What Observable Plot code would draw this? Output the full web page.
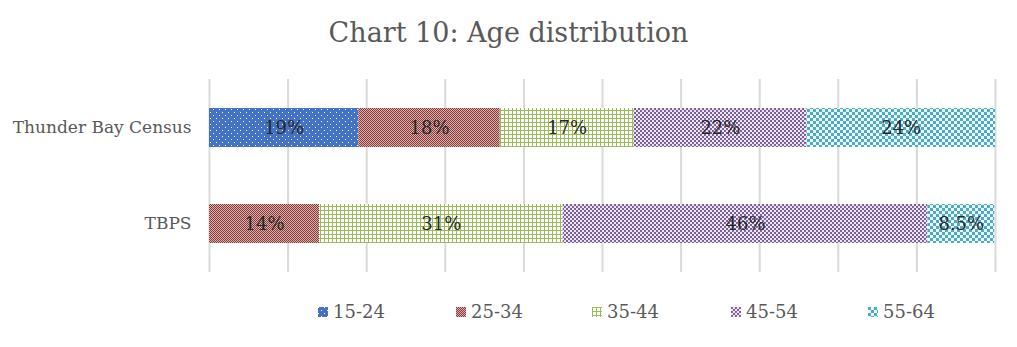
<!DOCTYPE html>
<html>
<head>
<meta charset="utf-8">
<script src="https://cdn.jsdelivr.net/npm/d3@7"></script>
<script src="https://cdn.jsdelivr.net/npm/@observablehq/plot@0.6"></script>
<style>
  html, body { margin: 0; padding: 0; background: #fff; }
  body { width: 1017px; height: 347px; overflow: hidden; font-family: "DejaVu Serif", serif; }
  #title { height: 70px; line-height: 66px; text-align: center; font-size: 27px; color: #595959; }
  #legend { position: relative; height: 62px; }
  .item { position: absolute; top: 16px; display: flex; align-items: center; font-size: 18px; color: #595959; }
  .item svg { margin-right: 5px; }
</style>
</head>
<body>
<svg width="0" height="0" style="position:absolute">
  <defs>
    <pattern id="p0" width="6" height="6" patternUnits="userSpaceOnUse">
      <rect width="6" height="6" fill="#4472C4"/>
      <rect x="0" y="0" width="1" height="1" fill="#ffffff"/>
      <rect x="3" y="3" width="1" height="1" fill="#ffffff"/>
    </pattern>
    <pattern id="p1" width="2" height="2" patternUnits="userSpaceOnUse">
      <rect width="2" height="2" fill="#d9b3b2"/>
      <rect x="0" y="0" width="1" height="1" fill="#8a3836"/>
      <rect x="1" y="1" width="1" height="1" fill="#8a3836"/>
    </pattern>
    <pattern id="p2" width="4" height="4" patternUnits="userSpaceOnUse">
      <rect width="4" height="4" fill="#ffffff"/>
      <rect x="0" y="0" width="4" height="1" fill="#9BBB59"/>
      <rect x="0" y="0" width="1" height="4" fill="#9BBB59"/>
    </pattern>
    <pattern id="p3" width="4" height="4" patternUnits="userSpaceOnUse">
      <rect width="4" height="4" fill="#ece6f3"/>
      <rect x="0" y="0" width="2" height="2" fill="#7a5f9a"/>
      <rect x="2" y="2" width="2" height="2" fill="#7a5f9a"/>
      <rect x="1" y="1" width="1" height="1" fill="#8d73ad"/>
    </pattern>
    <pattern id="p4" width="6" height="6" patternUnits="userSpaceOnUse">
      <rect width="6" height="6" fill="#eef9fc"/>
      <rect x="0" y="0" width="3" height="3" fill="#4BACC6"/>
      <rect x="3" y="3" width="3" height="3" fill="#4BACC6"/>
    </pattern>
  </defs>
</svg>
<div id="title">Chart 10: Age distribution</div>
<div id="chart"></div>
<div id="legend"></div>
<script>
const groups = ["Thunder Bay Census", "TBPS"];
const ages = ["15-24", "25-34", "35-44", "45-54", "55-64"];
const census = [19, 18, 17, 22, 24];
const tbps = [0, 14, 31, 46.4, 8.5];
const patterns = ["url(#p0)", "url(#p1)", "url(#p2)", "url(#p3)", "url(#p4)"];
const gridTicks = [0, 10, 20, 30, 40, 50, 60, 70, 80, 90, 100];

const fmt = v => (v < 10 ? v.toFixed(1) : Math.round(v)) + "%";
const data = [];
[census, tbps].forEach((vals, gi) => {
  vals.forEach((v, ai) => {
    if (v > 0) data.push({group: groups[gi], age: ages[ai], value: v, label: fmt(v)});
  });
});

const plot = Plot.plot({
  width: 1017,
  height: 215,
  marginLeft: 209,
  marginRight: 22,
  marginTop: 9,
  marginBottom: 13,
  style: {fontFamily: "DejaVu Serif, serif", background: "transparent"},
  x: {domain: [0, 100], axis: null},
  y: {domain: groups, paddingInner: 0.594, paddingOuter: 0.297, label: null},
  color: {type: "ordinal", domain: ages, range: patterns},
  marks: [
    Plot.gridX(gridTicks, {stroke: "#d9d9d9", strokeOpacity: 1, strokeWidth: 2}),
    Plot.barX(data, Plot.stackX({x: "value", y: "group", fill: "age", z: "age", order: ages})),
    Plot.textX(data, Plot.stackX({x: "value", y: "group", z: "age", order: ages, text: "label", fill: "#262626", fontSize: 18})),
    Plot.axisY({tickSize: 0, tickPadding: 18, fontSize: 17, color: "#595959", label: null})
  ]
});
document.getElementById("chart").appendChild(plot);

const legend = document.getElementById("legend");
const lx = [318, 456, 592, 731, 868];
ages.forEach((a, i) => {
  const d = document.createElement("div");
  d.className = "item";
  d.style.left = lx[i] + "px";
  d.innerHTML = `<svg width="10" height="10"><rect width="10" height="10" fill="${patterns[i]}"/></svg><span>${a}</span>`;
  legend.appendChild(d);
});
</script>
</body>
</html>
